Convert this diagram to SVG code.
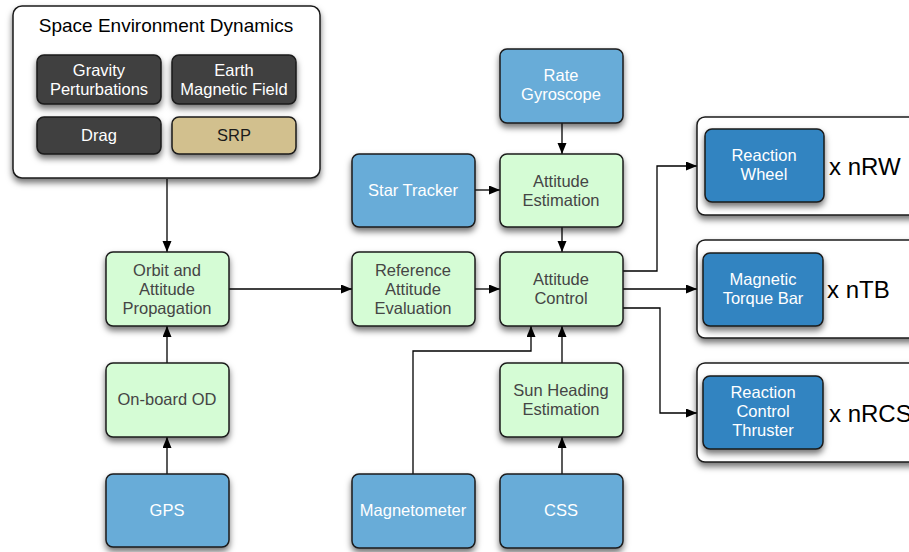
<svg xmlns="http://www.w3.org/2000/svg" width="909" height="552" viewBox="0 0 909 552">
<defs>
<filter id="sh" x="-20%" y="-20%" width="140%" height="150%">
<feDropShadow dx="0" dy="4" stdDeviation="3" flood-color="#000" flood-opacity="0.55"/>
</filter>
<marker id="ah" markerWidth="12" markerHeight="10" refX="11" refY="4.5" orient="auto" markerUnits="userSpaceOnUse">
<path d="M0,0 L11,4.5 L0,9 z" fill="#000"/>
</marker>
</defs>
<style>
.box{stroke:#1a1a1a;stroke-width:1.5;filter:url(#sh)}
.grn{fill:#d5fcd5}
.sen{fill:#68acd8}
.act{fill:#3084c1}
.drk{fill:#404040}
.srp{fill:#d2c08e}
.wht{fill:#ffffff}
text{font-family:"Liberation Sans",Arial,sans-serif;font-size:16.5px;text-anchor:middle}
.tg{fill:#454545}
.tw{fill:#ffffff}
.tk{fill:#1a1a1a}
.big{font-size:24px;text-anchor:start;fill:#000}
.ttl{font-size:19px;fill:#000}
.cn{fill:none;stroke:#000;stroke-width:1.3}
</style>

<g id="connectors">
<path class="cn" d="M167,179 V252" marker-end="url(#ah)"/>
<path class="cn" d="M167,363 V326" marker-end="url(#ah)"/>
<path class="cn" d="M167,474 V437" marker-end="url(#ah)"/>
<path class="cn" d="M229,289 H352" marker-end="url(#ah)"/>
<path class="cn" d="M475,289 H500" marker-end="url(#ah)"/>
<path class="cn" d="M562,123 V154" marker-end="url(#ah)"/>
<path class="cn" d="M475,190 H500" marker-end="url(#ah)"/>
<path class="cn" d="M562,227 V252" marker-end="url(#ah)"/>
<path class="cn" d="M413,474 V351 H531 V326" marker-end="url(#ah)"/>
<path class="cn" d="M562,363 V326" marker-end="url(#ah)"/>
<path class="cn" d="M562,474 V437" marker-end="url(#ah)"/>
<path class="cn" d="M623,271 H657 V166 H697" marker-end="url(#ah)"/>
<path class="cn" d="M623,289 H697" marker-end="url(#ah)"/>
<path class="cn" d="M623,308 H660 V413 H697" marker-end="url(#ah)"/>
</g>

<g id="space-env">
<rect class="box wht" x="13" y="6" width="307" height="172" rx="9"/>
<text class="ttl" x="166" y="32">Space Environment Dynamics</text>
</g>
<g id="gravity">
<rect class="box drk" x="37" y="55" width="124" height="49" rx="7"/>
<text class="tw" x="99" y="76">Gravity</text>
<text class="tw" x="99" y="95">Perturbations</text>
</g>
<g id="earth-mag">
<rect class="box drk" x="172" y="55" width="124" height="49" rx="7"/>
<text class="tw" x="234" y="76">Earth</text>
<text class="tw" x="234" y="95">Magnetic Field</text>
</g>
<g id="drag">
<rect class="box drk" x="37" y="117" width="124" height="37" rx="7"/>
<text class="tw" x="99" y="141">Drag</text>
</g>
<g id="srp">
<rect class="box srp" x="172" y="117" width="124" height="37" rx="7"/>
<text class="tk" x="234" y="141">SRP</text>
</g>

<g id="orbit-prop">
<rect class="box grn" x="106" y="252" width="123" height="74" rx="7"/>
<text class="tg" x="167" y="276">Orbit and</text>
<text class="tg" x="167" y="295">Attitude</text>
<text class="tg" x="167" y="314">Propagation</text>
</g>
<g id="onboard-od">
<rect class="box grn" x="106" y="363" width="123" height="74" rx="7"/>
<text class="tg" x="167" y="405">On-board OD</text>
</g>
<g id="gps">
<rect class="box sen" x="106" y="474" width="123" height="73" rx="7"/>
<text class="tw" x="167" y="516">GPS</text>
</g>

<g id="rate-gyro">
<rect class="box sen" x="500" y="49" width="123" height="74" rx="7"/>
<text class="tw" x="561" y="81">Rate</text>
<text class="tw" x="561" y="100">Gyroscope</text>
</g>
<g id="star-tracker">
<rect class="box sen" x="352" y="154" width="123" height="73" rx="7"/>
<text class="tw" x="413" y="196">Star Tracker</text>
</g>
<g id="att-est">
<rect class="box grn" x="500" y="154" width="123" height="73" rx="7"/>
<text class="tg" x="561" y="187">Attitude</text>
<text class="tg" x="561" y="206">Estimation</text>
</g>
<g id="ref-att">
<rect class="box grn" x="352" y="252" width="123" height="74" rx="7"/>
<text class="tg" x="413" y="276">Reference</text>
<text class="tg" x="413" y="295">Attitude</text>
<text class="tg" x="413" y="314">Evaluation</text>
</g>
<g id="att-ctrl">
<rect class="box grn" x="500" y="252" width="123" height="74" rx="7"/>
<text class="tg" x="561" y="285">Attitude</text>
<text class="tg" x="561" y="304">Control</text>
</g>
<g id="sun-heading">
<rect class="box grn" x="500" y="363" width="123" height="74" rx="7"/>
<text class="tg" x="561" y="396">Sun Heading</text>
<text class="tg" x="561" y="415">Estimation</text>
</g>
<g id="magnetometer">
<rect class="box sen" x="352" y="474" width="123" height="74" rx="7"/>
<text class="tw" x="413" y="516">Magnetometer</text>
</g>
<g id="css">
<rect class="box sen" x="500" y="474" width="123" height="74" rx="7"/>
<text class="tw" x="561" y="516">CSS</text>
</g>

<g id="rw-group">
<rect class="box wht" x="697" y="117" width="230" height="98" rx="8"/>
<rect class="box act" x="705" y="129" width="119" height="73" rx="7"/>
<text class="tw" x="764" y="161">Reaction</text>
<text class="tw" x="764" y="180">Wheel</text>
<text class="big" x="829" y="175">x nRW</text>
</g>
<g id="tb-group">
<rect class="box wht" x="697" y="240" width="230" height="98" rx="8"/>
<rect class="box act" x="703" y="253" width="120" height="73" rx="7"/>
<text class="tw" x="763" y="285">Magnetic</text>
<text class="tw" x="763" y="304">Torque Bar</text>
<text class="big" x="827" y="298">x nTB</text>
</g>
<g id="rcs-group">
<rect class="box wht" x="697" y="363" width="230" height="99" rx="8"/>
<rect class="box act" x="703" y="376" width="120" height="73" rx="7"/>
<text class="tw" x="763" y="398">Reaction</text>
<text class="tw" x="763" y="417">Control</text>
<text class="tw" x="763" y="436">Thruster</text>
<text class="big" x="829" y="422">x nRCS</text>
</g>
</svg>
